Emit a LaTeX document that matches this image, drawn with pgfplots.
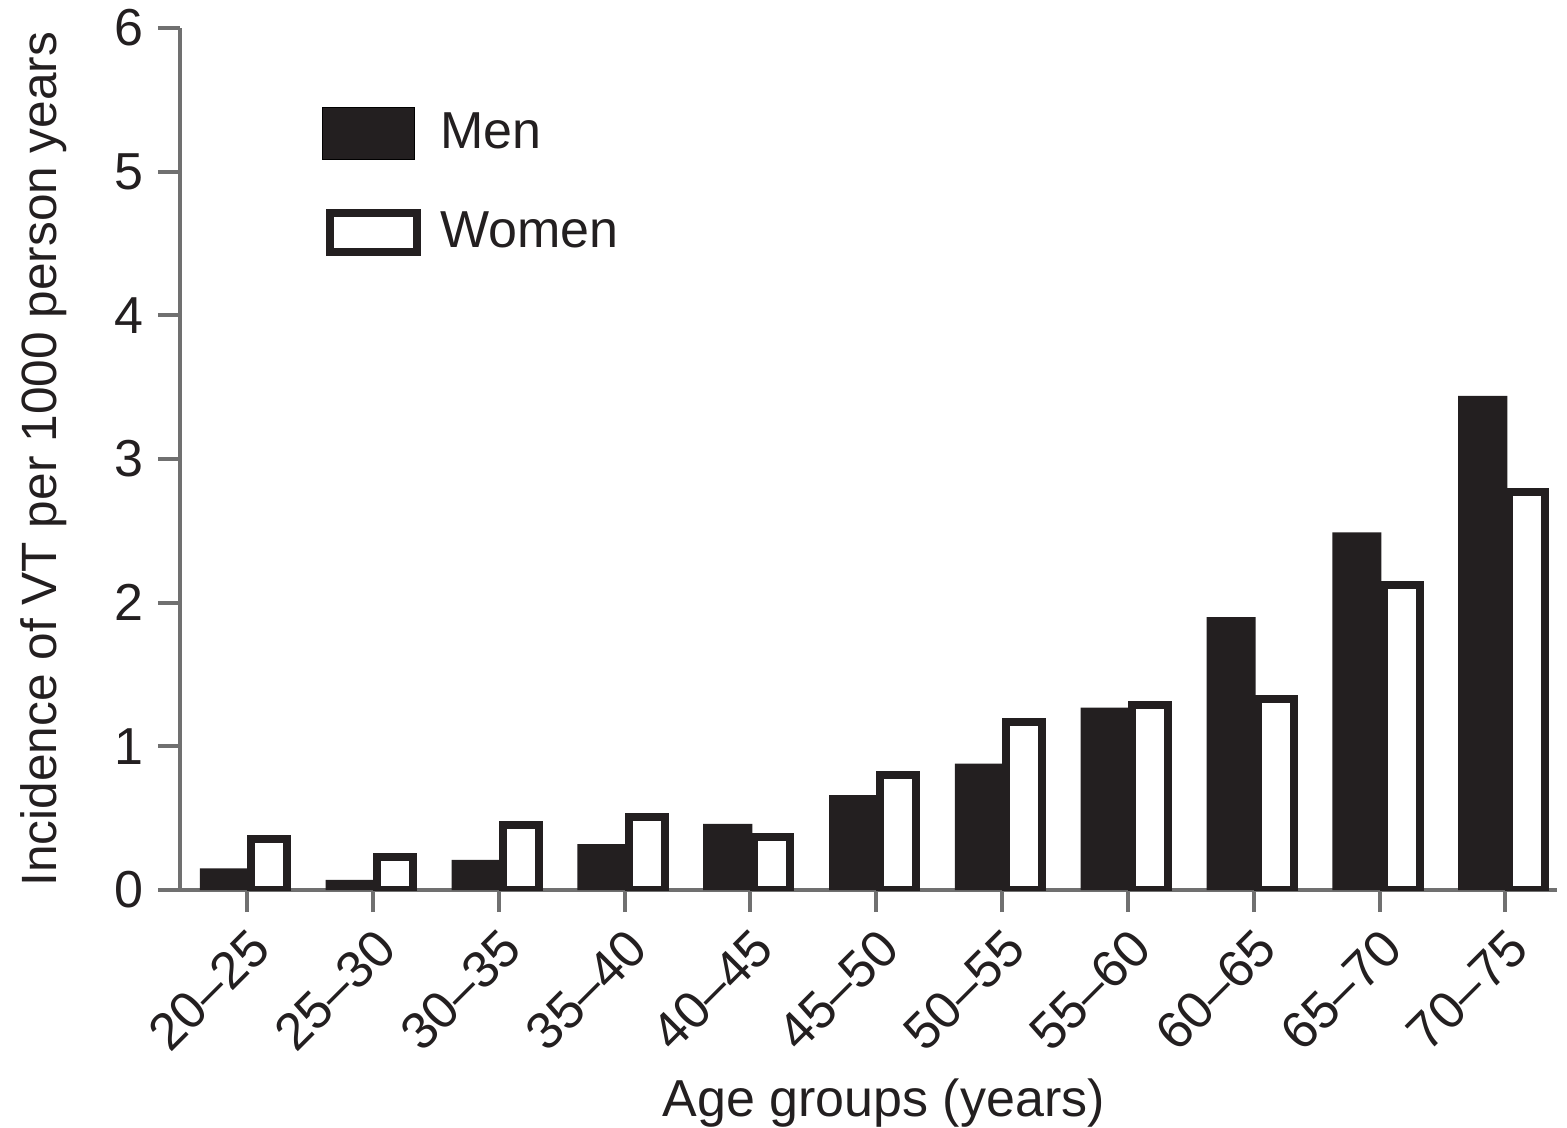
\documentclass[border=0pt]{standalone}
\usepackage{pgfplots}
\pgfplotsset{compat=1.18}
\usepackage{fontspec}
\setmainfont{Liberation Sans}
\definecolor{ink}{HTML}{231F20}
\definecolor{axgray}{HTML}{707070}

\pgfplotsset{
  menimg/.style={legend image code/.code={\draw[##1] (0pt,-6.5pt) rectangle (23pt,6.5pt); \path[draw=none,fill=none] (27.5pt,0pt) coordinate (mlx);}},
  womenimg/.style={legend image code/.code={\draw[##1] (2pt,-4.875pt) rectangle (23.75pt,4.875pt); \path[draw=none,fill=none] (27.5pt,0pt) coordinate (wlx);}},
}

\pgfplotstableread{
x men women
0 0.15 0.355
1 0.07 0.23
2 0.21 0.45
3 0.32 0.51
4 0.46 0.37
5 0.66 0.80
6 0.88 1.17
7 1.27 1.29
8 1.90 1.33
9 2.49 2.12
10 3.44 2.77
}\vtdata

\begin{document}
\begin{tikzpicture}
\begin{axis}[
  at={(0,0)}, anchor=south west,
  scale only axis,
  width=344.25pt, height=215.5pt,
  xmin=-0.533, xmax=10.41,
  ymin=0, ymax=6,
  axis x line=bottom, axis y line=left,
  axis line style={-, draw=axgray, line width=1pt},
  tick style={draw=axgray, line width=1pt},
  tick align=outside,
  major tick length=5.5pt,
  xtick={0,1,2,3,4,5,6,7,8,9,10},
  xticklabels={20--25,25--30,30--35,35--40,40--45,45--50,50--55,55--60,60--65,65--70,70--75},
  ytick={0,1,2,3,4,5,6},
  /pgf/number format/assume math mode=true,
  tick label style={font=\fontsize{13}{15}\selectfont, text=ink},
  xticklabel style={xshift=5.75pt, yshift=-4.25pt, rotate=45, anchor=east},
  ylabel={Incidence of VT per 1000 person years},
  xlabel={Age groups (years)},
  ylabel style={font=\fontsize{12.4}{14}\selectfont, text=ink, at={(axis description cs:-0.0988,0.5)}, anchor=center},
  xlabel style={font=\fontsize{13}{15}\selectfont, text=ink, at={(axis description cs:0.511,0)}, anchor=center, yshift=-53.25pt},
  legend style={at={(axis description cs:0.1023,0.912)}, anchor=north west, draw=none, fill=none, inner sep=0pt, row sep=10.35pt, font=\fontsize{13}{15}\selectfont, text=ink},
  legend cell align=left,
]
\addplot[ybar, bar width=0.39, bar shift=-0.18, fill=ink, draw=none, menimg]
  table[x=x, y=men] {\vtdata};
\addlegendentry{Men}
\addplot[ybar, bar width=0.286, bar shift=0.175, fill=white, draw=ink, line width=2pt, womenimg]
  table[x=x, y=women] {\vtdata};
\addlegendentry{Women}
\end{axis}
\pgfresetboundingbox
\path (-45pt,-59.25pt) rectangle (346.75pt,222.5pt);
\end{tikzpicture}
\end{document}
